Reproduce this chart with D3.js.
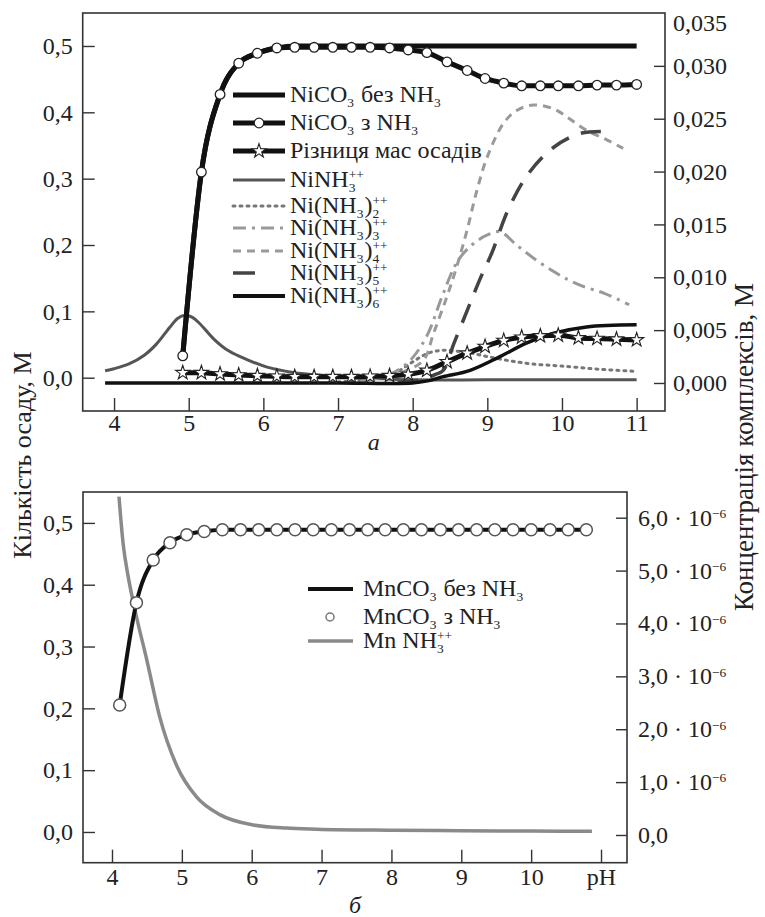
<!DOCTYPE html>
<html><head><meta charset="utf-8">
<script src="https://cdn.jsdelivr.net/npm/d3@7"></script>
<style>body{margin:0;background:#fff}</style>
</head><body><svg id="c" width="765" height="917"></svg>
<script>
// ---------------- DATA ----------------
// Panel a: NiCO3 precipitate (left axis, M)
const niPH        = [4.92,5.17,5.42,5.67,5.92,6.18,6.42,6.68,6.93,7.18,7.43,7.69,7.94,8.19,8.46,8.73,8.97,9.22,9.46,9.71,9.95,10.22,10.47,10.73,11.0];
const niWithNH3   = [0.033,0.310,0.427,0.474,0.489,0.497,0.498,0.498,0.498,0.498,0.498,0.497,0.494,0.490,0.476,0.463,0.451,0.444,0.440,0.440,0.440,0.440,0.441,0.441,0.442];
const niDiff      = [0.0075,0.0075,0.0055,0.004,0.003,0.002,0.0015,0.0015,0.0015,0.0015,0.002,0.003,0.005,0.011,0.024,0.037,0.047,0.056,0.061,0.063,0.064,0.060,0.059,0.058,0.057];
const niNoPH      = [4.92,5.17,5.42,5.67,5.92,6.18,6.42,11.0];
const niNoNH3     = [0.033,0.310,0.427,0.474,0.489,0.497,0.500,0.500];
// Panel a: complexes (right axis, M)
const c1PH = [3.88,4.0,4.2,4.4,4.57,4.75,4.85,4.95,5.05,5.15,5.33,5.5,5.69,6.05,6.4,6.8,7.2,7.6,8.0,9.0,10.0,11.0];
const c1   = [0.00116,0.00135,0.0018,0.0026,0.0037,0.0053,0.0061,0.0064,0.0062,0.0056,0.0042,0.0032,0.0025,0.0015,0.0010,0.0007,0.0005,0.0004,0.0003,0.0003,0.0003,0.0003];
const c2PH = [7.0,7.5,7.8,8.0,8.2,8.4,8.6,8.8,9.0,9.3,9.6,10.0,10.5,11.0];
const c2   = [0.0001,0.0004,0.0011,0.0020,0.0028,0.0031,0.0030,0.0028,0.0025,0.0021,0.0018,0.0016,0.0013,0.0011];
const c3PH = [7.3,7.6,7.8,8.0,8.2,8.4,8.6,8.8,9.0,9.17,9.4,9.66,9.9,10.1,10.3,10.56,10.9];
const c3   = [0.0002,0.0006,0.0012,0.0024,0.0046,0.0083,0.0115,0.0131,0.0140,0.0143,0.0130,0.0116,0.0105,0.0097,0.0091,0.0085,0.0074];
const c4PH = [7.3,7.56,7.92,8.15,8.28,8.46,8.59,8.73,8.86,9.0,9.22,9.4,9.62,9.9,10.1,10.33,10.6,10.82];
const c4   = [0.0002,0.0005,0.0012,0.0022,0.0047,0.0082,0.0110,0.0145,0.0182,0.0214,0.0246,0.0258,0.0263,0.0259,0.0250,0.0239,0.0230,0.0222];
const c5PH = [7.8,8.1,8.3,8.41,8.55,8.75,8.9,9.06,9.28,9.55,9.89,10.24,10.53];
const c5   = [0.0,0.0003,0.0008,0.0012,0.0037,0.0072,0.0098,0.0123,0.0164,0.0198,0.0223,0.0236,0.0238];
const c6PH = [3.88,5,6,7,8,8.2,8.41,8.77,9.17,9.53,9.89,10.33,11.0];
const c6   = [0,0,0,0,0,0.0002,0.0006,0.0012,0.0025,0.0038,0.0047,0.0053,0.0055];
// Panel b: MnCO3 (left axis, M) and MnNH3++ (right axis, 10^-6 M)
const mnPH     = [4.11,4.35,4.59,4.83,5.07,5.32,5.58,5.84,6.10,6.36,6.62,6.88,7.14,7.40,7.66,7.91,8.17,8.43,8.70,8.96,9.22,9.48,9.74,10.00,10.27,10.53,10.79];
const mnWith   = [0.2055,0.371,0.440,0.468,0.481,0.486,0.489,0.489,0.489,0.489,0.489,0.489,0.489,0.489,0.489,0.489,0.489,0.489,0.489,0.489,0.489,0.489,0.489,0.489,0.489,0.489,0.489];
const mnCPH    = [4.10,4.16,4.23,4.33,4.5,4.69,4.93,5.21,5.55,6.02,6.5,6.93,8.0,9.0,10.0,10.87];
const mnCmicro = [6.4,5.5,4.9,4.25,3.3,2.2,1.3,0.72,0.38,0.19,0.13,0.11,0.09,0.08,0.075,0.07];
// Ticks
const xTicksA = [4,5,6,7,8,9,10,11];
const yTicksL = [0,0.1,0.2,0.3,0.4,0.5];
const yTicksRA = [0,0.005,0.010,0.015,0.020,0.025,0.030];
const yTopLabelRA = 0.035;
const xTicksB = [4,5,6,7,8,9,10,11];
const xLabelsB = ["4","5","6","7","8","9","10","pH"];
const yTicksRB = [0,1,2,3,4,5,6];

// ---------------- DRAW ----------------
const FONT = "'Liberation Serif'";
const svg = d3.select("#c");
const FS = 24;
const comma = s => s.replace(".", ",");

function txt(g, x, y, s, fs){
  return g.append("text").attr("x",x).attr("y",y).attr("font-size",fs)
    .style("font-family",FONT).attr("fill","#222").text(s);
}
function rich(g, x, y, parts, fs){
  let cx = x;
  for (const p of parts){
    if (typeof p === "string"){
      const t = txt(g, cx, y, p, fs);
      cx += t.node().getComputedTextLength();
    } else {
      let w = 0;
      if (p.sub){ const t = txt(g, cx, y+fs*0.2, p.sub, fs*0.56); w=Math.max(w,t.node().getComputedTextLength()); }
      if (p.sup){ const t = txt(g, cx, y-fs*0.32, p.sup, fs*0.56); w=Math.max(w,t.node().getComputedTextLength()); }
      cx += w + 1;
    }
  }
  return cx - x;
}

function frame(x0,x1,y0,y1){
  svg.append("rect").attr("x",x0).attr("y",y0).attr("width",x1-x0).attr("height",y1-y0)
    .attr("fill","none").attr("stroke","#333").attr("stroke-width",1.6);
}
function styleAxis(g){
  g.select(".domain").remove();
  g.selectAll(".tick line").attr("stroke","#333").attr("stroke-width",1.4);
  g.selectAll(".tick text").attr("font-size",FS).attr("fill","#222").style("font-family",FONT);
}

// ===== Panel a =====
const A = {x0:82.7, x1:665, y0:13, y1:411};
const xA = d3.scaleLinear().domain([3.58,11.38]).range([A.x0,A.x1]);
const yAL = d3.scaleLinear().domain([-0.0502,0.5497]).range([A.y1,A.y0]);
const yAR = d3.scaleLinear().domain([-0.00265,0.035]).range([A.y1,A.y0]);

const lineA = (xs, ys, y, c) => d3.line().x((d,i)=>xA(xs[i])).y((d,i)=>y(ys[i])).curve(c||d3.curveMonotoneX)(ys);

const gA = svg.append("g");
const cStyles = [
  {ph:c1PH, v:c1, stroke:"#555", w:3, dash:null},
  {ph:c2PH, v:c2, stroke:"#777", w:3, dash:"2,5", cap:"round"},
  {ph:c3PH, v:c3, stroke:"#999", w:3, dash:"13,6,3,6"},
  {ph:c4PH, v:c4, stroke:"#9a9a9a", w:3, dash:"8,6"},
  {ph:c5PH, v:c5, stroke:"#444", w:3.5, dash:"20,13"},
  {ph:c6PH, v:c6, stroke:"#111", w:3.5, dash:null}
];
cStyles.forEach(s=>{
  gA.append("path").attr("d",lineA(s.ph,s.v,yAR,d3.curveCatmullRom.alpha(0.5))).attr("fill","none")
    .attr("stroke",s.stroke).attr("stroke-width",s.w)
    .attr("stroke-dasharray",s.dash).attr("stroke-linecap",s.cap||"butt");
});
gA.append("path").attr("d",lineA(niNoPH,niNoNH3,yAL)).attr("fill","none").attr("stroke","#111").attr("stroke-width",5);
gA.append("path").attr("d",lineA(niPH,niWithNH3,yAL)).attr("fill","none").attr("stroke","#111").attr("stroke-width",5);
gA.append("path").attr("d",lineA(niPH,niDiff,yAL)).attr("fill","none").attr("stroke","#111").attr("stroke-width",5);
gA.selectAll(".circ").data(niWithNH3).join("circle")
  .attr("cx",(d,i)=>xA(niPH[i])).attr("cy",d=>yAL(d)).attr("r",4.8)
  .attr("fill","#fff").attr("stroke","#222").attr("stroke-width",1.3);
const star = d3.symbol().type(d3.symbolStar).size(62)();
gA.selectAll(".star").data(niDiff).join("path").attr("d",star)
  .attr("transform",(d,i)=>`translate(${xA(niPH[i])},${yAL(d)})`)
  .attr("fill","#fff").attr("stroke","#222").attr("stroke-width",1.1);

frame(A.x0,A.x1,A.y0,A.y1);
const axA = svg.append("g").attr("transform",`translate(0,${A.y1})`)
  .call(d3.axisBottom(xA).tickValues(xTicksA).tickSize(-13).tickPadding(3).tickFormat(d3.format("d")));
styleAxis(axA);
const ayAL = svg.append("g").attr("transform",`translate(${A.x0},0)`)
  .call(d3.axisLeft(yAL).tickValues(yTicksL).tickSize(-12).tickPadding(10).tickFormat(d=>comma(d3.format(".1f")(d))));
styleAxis(ayAL);
const ayAR = svg.append("g").attr("transform",`translate(${A.x1},0)`)
  .call(d3.axisRight(yAR).tickValues(yTicksRA).tickSize(-11).tickPadding(8).tickFormat(d=>comma(d3.format(".3f")(d))));
styleAxis(ayAR);
txt(svg, A.x1+8, yAR(yTopLabelRA)+18, comma(d3.format(".3f")(yTopLabelRA)), FS);

// legend a
const legA = svg.append("g");
const LX0=233, LX1=285, TX=290;
const NB = "\u00A0";
const legItemsA = [
  {y:95,  type:"line", stroke:"#111", w:5, parts:["NiCO",{sub:"3"},NB+"без NH",{sub:"3"}]},
  {y:123, type:"circle", stroke:"#111", w:5, parts:["NiCO",{sub:"3"},NB+"з NH",{sub:"3"}]},
  {y:151, type:"star", stroke:"#111", w:5, parts:["Різниця мас осадів"]},
  {y:180, type:"line", stroke:"#555", w:3, parts:["NiNH",{sub:"3",sup:"++"}]},
  {y:206, type:"line", stroke:"#777", w:3, dash:"2,5", cap:"round", parts:["Ni(NH",{sub:"3"},")",{sub:"2",sup:"++"}]},
  {y:228, type:"line", stroke:"#999", w:3, dash:"13,6,3,6", parts:["Ni(NH",{sub:"3"},")",{sub:"3",sup:"++"}]},
  {y:251, type:"line", stroke:"#9a9a9a", w:3, dash:"8,6", parts:["Ni(NH",{sub:"3"},")",{sub:"4",sup:"++"}]},
  {y:273, type:"line", stroke:"#444", w:3.5, x1:255, parts:["Ni(NH",{sub:"3"},")",{sub:"5",sup:"++"}]},
  {y:296, type:"line", stroke:"#111", w:4, parts:["Ni(NH",{sub:"3"},")",{sub:"6",sup:"++"}]}
];
legItemsA.forEach(it=>{
  legA.append("line").attr("x1",LX0).attr("x2",it.x1||LX1).attr("y1",it.y).attr("y2",it.y)
    .attr("stroke",it.stroke).attr("stroke-width",it.w).attr("stroke-dasharray",it.dash||null)
    .attr("stroke-linecap",it.cap||"butt");
  if (it.type==="circle") legA.append("circle").attr("cx",(LX0+LX1)/2).attr("cy",it.y).attr("r",4.8).attr("fill","#fff").attr("stroke","#222").attr("stroke-width",1.3);
  if (it.type==="star") legA.append("path").attr("d",star).attr("transform",`translate(${(LX0+LX1)/2},${it.y})`).attr("fill","#fff").attr("stroke","#222").attr("stroke-width",1.1);
  rich(legA, TX, it.y+7, it.parts, FS);
});
txt(svg,(A.x0+A.x1)/2,450,"а",FS).attr("text-anchor","middle").attr("font-style","italic");

// ===== Panel b =====
const B = {x0:83, x1:627, y0:492, y1:862.7};
const xB = d3.scaleLinear().domain([3.585,11.372]).range([B.x0,B.x1]);
const yBL = d3.scaleLinear().domain([-0.0497,0.55]).range([B.y1,B.y0]);
const yBR = d3.scaleLinear().domain([-0.524,6.486]).range([B.y1,B.y0]);
const lineB = (xs, ys, y, c) => d3.line().x((d,i)=>xB(xs[i])).y((d,i)=>y(ys[i])).curve(c||d3.curveMonotoneX)(ys);
const gB = svg.append("g");
gB.append("path").attr("d",lineB(mnCPH,mnCmicro,yBR)).attr("fill","none").attr("stroke","#8a8a8a").attr("stroke-width",3.5);
gB.append("path").attr("d",lineB(mnPH,mnWith,yBL)).attr("fill","none").attr("stroke","#111").attr("stroke-width",4);
gB.selectAll(".circ").data(mnWith).join("circle")
  .attr("cx",(d,i)=>xB(mnPH[i])).attr("cy",d=>yBL(d)).attr("r",6)
  .attr("fill","#fff").attr("stroke","#555").attr("stroke-width",1.5);

frame(B.x0,B.x1,B.y0,B.y1);
const axB = svg.append("g").attr("transform",`translate(0,${B.y1})`)
  .call(d3.axisBottom(xB).tickValues(xTicksB).tickSize(-13).tickPadding(5).tickFormat((d,i)=>xLabelsB[i]));
styleAxis(axB);
const ayBL = svg.append("g").attr("transform",`translate(${B.x0},0)`)
  .call(d3.axisLeft(yBL).tickValues(yTicksL).tickSize(-12).tickPadding(10).tickFormat(d=>comma(d3.format(".1f")(d))));
styleAxis(ayBL);
const ayBR = svg.append("g").attr("transform",`translate(${B.x1},0)`)
  .call(d3.axisRight(yBR).tickValues(yTicksRB).tickSize(-11).tickPadding(11).tickFormat(""));
styleAxis(ayBR);
yTicksRB.forEach(v=>{
  const yy = yBR(v)+8;
  if (v===0) txt(svg, B.x1+11, yy, "0,0", FS);
  else rich(svg, B.x1+11, yy, [comma(d3.format(".1f")(v))+NB+"·"+NB+"10", {sup:"−6"}], FS);
});

// legend b
const legB = svg.append("g");
legB.append("line").attr("x1",308).attr("x2",353).attr("y1",589).attr("y2",589).attr("stroke","#111").attr("stroke-width",4);
legB.append("circle").attr("cx",330).attr("cy",617).attr("r",4).attr("fill","#fff").attr("stroke","#777").attr("stroke-width",1.5);
legB.append("line").attr("x1",308).attr("x2",353).attr("y1",641).attr("y2",641).attr("stroke","#8a8a8a").attr("stroke-width",3.5);
rich(legB, 363, 596, ["MnCO",{sub:"3"},NB+"без NH",{sub:"3"}], FS);
rich(legB, 363, 624, ["MnCO",{sub:"3"},NB+"з NH",{sub:"3"}], FS);
rich(legB, 363, 648, ["Mn NH",{sub:"3",sup:"++"}], FS);
txt(svg,(B.x0+B.x1)/2,913,"б",FS).attr("text-anchor","middle").attr("font-style","italic");

// axis titles
txt(svg,0,0,"Кількість осаду, М",26).attr("transform","translate(31,455) rotate(-90)").attr("text-anchor","middle");
txt(svg,0,0,"Концентрація комплексів, М",27).attr("transform","translate(753,447) rotate(-90)").attr("text-anchor","middle");
</script></body></html>
